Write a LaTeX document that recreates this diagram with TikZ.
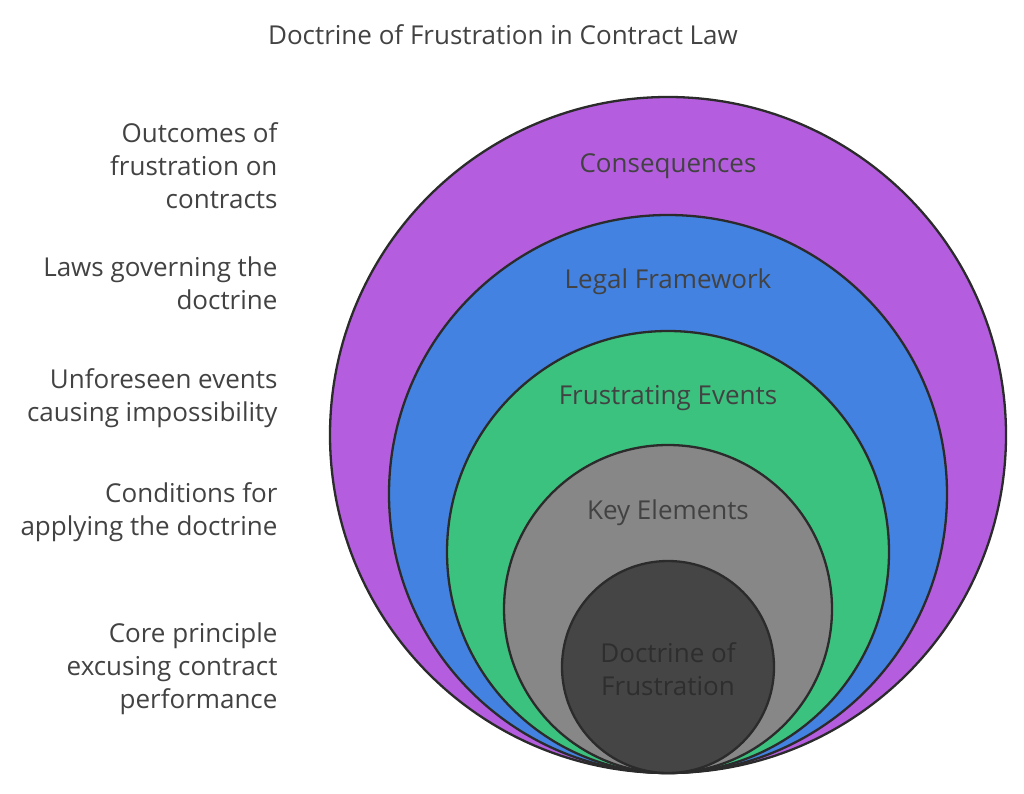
\documentclass[tikz,border=0pt]{standalone}
\usepackage{fontspec}
\setmainfont{Open Sans}
\definecolor{txtgray}{HTML}{424242}
\definecolor{rimgray}{HTML}{2B2B2B}
\definecolor{conseqcol}{HTML}{B45EDF}
\definecolor{legalcol}{HTML}{4382E0}
\definecolor{eventcol}{HTML}{3CC27F}
\definecolor{keycol}{HTML}{878787}
\definecolor{corecol}{HTML}{454545}
\tikzset{
  ring/.style={circle,draw=rimgray,line width=2.3pt,inner sep=0pt},
  ringtext/.style={text=txtgray,font=\fontsize{26}{33}\selectfont,align=center},
  sidetext/.style={text=txtgray,font=\fontsize{26}{33}\selectfont,align=right,anchor=east}
}
\begin{document}
\begin{tikzpicture}[x=1pt,y=-1pt]
    \useasboundingbox (0,0) rectangle (1024,794);
    \node[text=txtgray,font=\fontsize{26}{30}\selectfont] (title) at (503,35) {Doctrine of Frustration in Contract Law};
    % nested circles, all touching at the bottom
    \node[ring,fill=conseqcol,minimum size=676pt] (conseq) at (668,435) {};
    \node[ring,fill=legalcol,minimum size=558pt] (legal) at (668,494) {};
    \node[ring,fill=eventcol,minimum size=442pt] (event) at (668,552) {};
    \node[ring,fill=keycol,minimum size=328pt] (key) at (668,609) {};
    \node[ring,fill=corecol,minimum size=212pt] (core) at (668,667) {};
    % circle labels
    \node[ringtext] (conseqlbl) at (668,166) {Consequences};
    \node[ringtext] (legallbl) at (668,282) {Legal Framework};
    \node[ringtext] (eventlbl) at (668,398) {Frustrating Events};
    \node[ringtext] (keylbl) at (668,513) {Key Elements};
    \node[ringtext,text=rimgray!90!corecol] (corelbl) at (668,669) {Doctrine of\\Frustration};
    % descriptions on the left
    \node[sidetext] (conseqdesc) at (281,166) {Outcomes of\\frustration on\\contracts};
    \node[sidetext] (legaldesc) at (281,283) {Laws governing the\\doctrine};
    \node[sidetext] (eventdesc) at (281,398) {Unforeseen events\\causing impossibility};
    \node[sidetext] (keydesc) at (281,512) {Conditions for\\applying the doctrine};
    \node[sidetext] (coredesc) at (281,669) {Core principle\\excusing contract\\performance};
\end{tikzpicture}
\end{document}
